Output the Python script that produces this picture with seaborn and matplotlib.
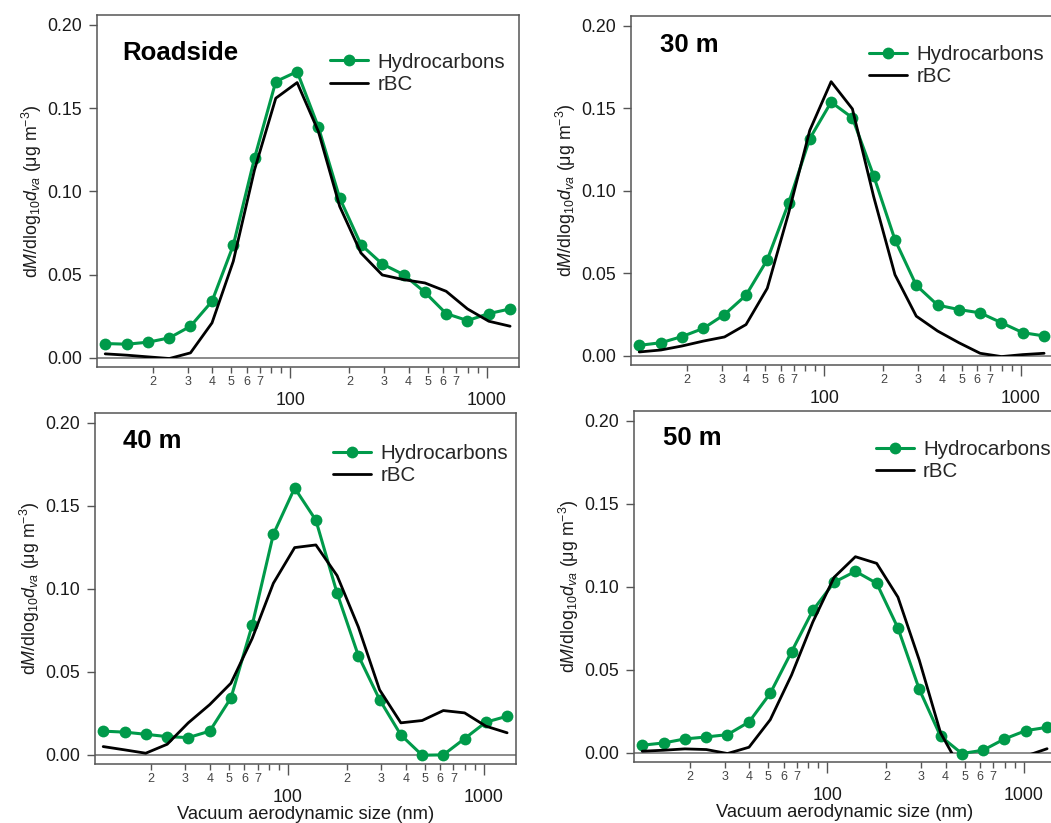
import matplotlib
matplotlib.use('Agg')
import matplotlib.pyplot as plt
from matplotlib.patches import Rectangle
from matplotlib.ticker import FixedLocator, FixedFormatter
import seaborn as sns

# size bins (nm, vacuum aerodynamic diameter)
sizes = [11.4, 14.7, 18.8, 24.2, 31.0, 39.9, 51.2, 65.7, 84.3, 108.3,
         139.0, 178.4, 229.0, 294.0, 377.6, 484.8, 622.0, 799.0, 1026.0, 1317.0]

sites = ['Roadside', '30 m', '40 m', '50 m']

hc_roadside = [0.0086, 0.0082, 0.0094, 0.0120, 0.0190, 0.0340, 0.0676, 0.1200, 0.1660, 0.1720,
               0.1386, 0.0960, 0.0680, 0.0564, 0.0500, 0.0394, 0.0266, 0.0224, 0.0266, 0.0294]
rbc_roadside = [0.0024, 0.0016, 0.0006, -0.0004, 0.0030, 0.0210, 0.0580, 0.1130, 0.1560, 0.1654,
                0.1360, 0.0910, 0.0630, 0.0498, 0.0470, 0.0450, 0.0400, 0.0294, 0.0220, 0.0190]

hc_30m = [0.0064, 0.0080, 0.0117, 0.0167, 0.0251, 0.0368, 0.0583, 0.0925, 0.1317, 0.1538,
          0.1443, 0.1091, 0.0704, 0.0428, 0.0308, 0.0281, 0.0261, 0.0201, 0.0141, 0.0121]
rbc_30m = [0.0024, 0.0036, 0.0060, 0.0090, 0.0115, 0.0190, 0.0410, 0.0864, 0.1367, 0.1662,
           0.1497, 0.0965, 0.0492, 0.0241, 0.0151, 0.0080, 0.0016, -0.0004, 0.0008, 0.0016]

hc_40m = [0.0143, 0.0137, 0.0124, 0.0110, 0.0104, 0.0143, 0.0343, 0.0781, 0.1329, 0.1608,
          0.1414, 0.0974, 0.0598, 0.0333, 0.0120, -0.0002, 0.0000, 0.0098, 0.0197, 0.0233]
rbc_40m = [0.0050, 0.0030, 0.0010, 0.0064, 0.0193, 0.0303, 0.0432, 0.0701, 0.1034, 0.1249,
           0.1265, 0.1080, 0.0771, 0.0392, 0.0193, 0.0207, 0.0267, 0.0253, 0.0173, 0.0133]

hc_50m = [0.0046, 0.0060, 0.0084, 0.0096, 0.0110, 0.0186, 0.0359, 0.0609, 0.0858, 0.1028,
          0.1094, 0.1022, 0.0752, 0.0383, 0.0100, -0.0004, 0.0016, 0.0084, 0.0134, 0.0154]
rbc_50m = [0.0010, 0.0016, 0.0024, 0.0020, -0.0004, 0.0034, 0.0200, 0.0469, 0.0788, 0.1058,
           0.1182, 0.1142, 0.0938, 0.0559, 0.0120, -0.0110, -0.0120, -0.0080, -0.0019, 0.0025]

hc_all = [hc_roadside, hc_30m, hc_40m, hc_50m]
rbc_all = [rbc_roadside, rbc_30m, rbc_40m, rbc_50m]

major_ticks = [100, 1000]
major_labels = ['100', '1000']
minor_ticks = [20, 30, 40, 50, 60, 70, 80, 90, 200, 300, 400, 500, 600, 700, 800, 900]
minor_labels = ['2', '3', '4', '5', '6', '7', '', ''] * 2
y_ticks = [0.0, 0.05, 0.10, 0.15, 0.20]

sns.set_style('ticks')
plt.rcParams['font.family'] = ['Liberation Sans', 'DejaVu Sans']
plt.rcParams['mathtext.fontset'] = 'custom'
plt.rcParams['mathtext.rm'] = 'Liberation Sans'
plt.rcParams['mathtext.it'] = 'Liberation Sans:italic'

green = '#009a4a'
frame = '#555555'
txt = '#1a1a1a'

W, H = 1051, 823
fig = plt.figure(figsize=(W / 100, H / 100), dpi=100)

# panel boxes in pixels: left, top, width, height
boxes = [(97, 15, 422, 352), (631, 16, 422, 349), (95, 413, 421, 351), (634, 411, 422, 351)]
title_xy = [(0.059, 0.892), (0.069, 0.918), (0.067, 0.921), (0.069, 0.924)]
legend_xy = [(0.552, 0.893), (0.564, 0.916), (0.565, 0.911), (0.573, 0.917)]

xmin, xmax = 10 ** 1.015, 10 ** 3.165
ymin, ymax = -0.0055, 0.206

for i, site in enumerate(sites):
    l, t, w, h = boxes[i]
    ax = fig.add_axes([l / W, 1 - (t + h) / H, w / W, h / H])
    ax.set_xscale('log')
    ax.set_xlim(xmin, xmax)
    ax.set_ylim(ymin, ymax)

    ax.axhline(0, color='#8a8a8a', lw=1.4, zorder=1)
    sns.lineplot(x=sizes, y=hc_all[i], ax=ax, color=green, lw=2.2, marker='o',
                 markersize=8.5, markeredgewidth=0, label='Hydrocarbons', zorder=2)
    sns.lineplot(x=sizes, y=rbc_all[i], ax=ax, color='black', lw=2.0, label='rBC', zorder=3)
    # rBC trace is not drawn below zero
    ax.lines[-1].set_clip_path(Rectangle((xmin, 0), xmax - xmin, ymax, transform=ax.transData))

    ax.xaxis.set_major_locator(FixedLocator(major_ticks))
    ax.xaxis.set_major_formatter(FixedFormatter(major_labels))
    ax.xaxis.set_minor_locator(FixedLocator(minor_ticks))
    ax.xaxis.set_minor_formatter(FixedFormatter(minor_labels))
    ax.set_yticks(y_ticks)
    ax.set_yticklabels([f'{v:.2f}' for v in y_ticks])

    ax.tick_params(axis='x', which='major', length=8, width=1, color=frame,
                   labelsize=12.8, labelcolor=txt, pad=10)
    ax.tick_params(axis='x', which='minor', length=4.5, width=1, color=frame,
                   labelsize=9, labelcolor='#444444', pad=2)
    ax.tick_params(axis='y', length=6, width=1, color=frame, labelsize=12.8,
                   labelcolor=txt, pad=5)
    for sp in ax.spines.values():
        sp.set_color(frame)
        sp.set_linewidth(1.1)

    ax.text(title_xy[i][0], title_xy[i][1], site, transform=ax.transAxes,
            fontsize=18.5, fontweight='bold', ha='left', va='center', color='black')

    ax.legend(loc='upper left', bbox_to_anchor=legend_xy[i], frameon=False, fontsize=14.8,
              handlelength=1.85, handletextpad=0.45, borderpad=0, borderaxespad=0,
              labelspacing=0.15)

    ax.set_ylabel(r'd$\mathit{M}$/dlog$_{10}$$d_{va}$ (μg m$^{-3}$)', fontsize=12.8,
                  labelpad=2, color=txt)
    if i >= 2:
        ax.set_xlabel('Vacuum aerodynamic size (nm)', fontsize=13.2, labelpad=0, color=txt)
    else:
        ax.set_xlabel('')

fig.savefig('out.png', dpi=100)
